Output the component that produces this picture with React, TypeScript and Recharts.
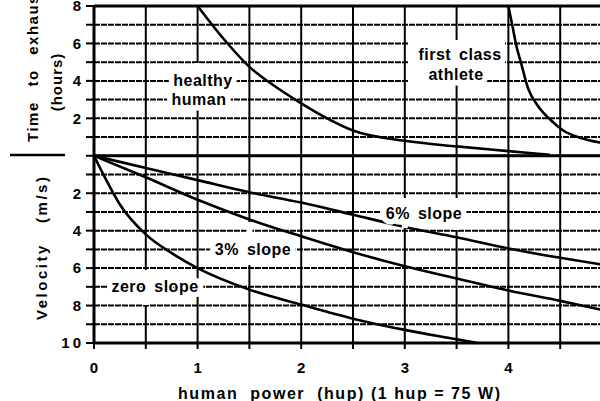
import { CartesianGrid, Line, LineChart, ReferenceLine, XAxis, YAxis } from 'recharts'

// x axis: human power in hup, 0.5 steps for the vertical rules
const powerTicks = [0, 0.5, 1, 1.5, 2, 2.5, 3, 3.5, 4, 4.5, 5]
// one shared vertical scale: hours above zero, velocity (m/s) below
const levelTicks = [-10, -9, -8, -7, -6, -5, -4, -3, -2, -1, 0, 1, 2, 3, 4, 5, 6, 7, 8]

// time to exhaustion (hours)
const healthyPower = [1, 1.25, 1.5, 1.75, 2, 2.25, 2.5, 3, 3.5, 4, 4.4]
const healthyHours = [8, 6.25, 4.75, 3.7, 2.8, 2.0, 1.35, 0.8, 0.5, 0.25, 0.05]
const athletePower = [4, 4.04, 4.08, 4.12, 4.19, 4.28, 4.41, 4.53, 4.7, 4.89, 5]
const athleteHours = [8, 6.9, 5.8, 5.0, 3.6, 2.7, 1.9, 1.35, 0.95, 0.7, 0.6]

// velocity (m/s)
const zeroPower = [0, 0.1, 0.25, 0.5, 0.75, 1, 1.5, 2, 2.5, 3, 3.5, 3.7]
const zeroSpeed = [0, 1.1, 2.6, 4.2, 5.2, 6.0, 7.15, 7.95, 8.7, 9.3, 9.8, 10]
const slopePower = [0, 0.5, 1, 1.5, 2, 2.5, 3, 3.5, 4, 4.5, 5]
const threeSpeed = [0, 1.15, 2.35, 3.4, 4.3, 5.15, 5.9, 6.55, 7.2, 7.75, 8.35]
const sixSpeed = [0, 0.65, 1.3, 1.95, 2.5, 3.15, 3.8, 4.35, 4.95, 5.45, 5.9]

const toPoints = (xs: number[], ys: number[], sign = 1) =>
  xs.map((p, i) => ({ power: p, value: sign * ys[i] }))

const healthy = toPoints(healthyPower, healthyHours)
const athlete = toPoints(athletePower, athleteHours)
const zeroSlope = toPoints(zeroPower, zeroSpeed, -1)
const threeSlope = toPoints(slopePower, threeSpeed, -1)
const sixSlope = toPoints(slopePower, sixSpeed, -1)

const W = 620
const H = 401
const LEFT = 94
const TOP = 6
const RIGHT = 8
const XAXIS_H = 58
const plotW = W - LEFT - RIGHT
const plotH = H - TOP - XAXIS_H
const px = (p: number) => LEFT + (p / 5) * plotW
const py = (v: number) => TOP + ((8 - v) / 18) * plotH

const font = '"Liberation Sans", Arial, Helvetica, sans-serif'
const ink = '#000'

const yFmt = (v: number) => (v !== 0 && v % 2 === 0 ? String(Math.abs(v)) : '')
const xFmt = (v: number) => (Number.isInteger(v) && v < 5 ? String(v) : '')

function Tag({ x, y, text, size = 16 }: { x: number; y: number; text: string; size?: number }) {
  return (
    <text
      x={x}
      y={y}
      dy="0.35em"
      textAnchor="middle"
      fontFamily={font}
      fontWeight={700}
      fontSize={size}
      letterSpacing={0.5}
      wordSpacing={3}
      fill={ink}
      stroke="#fff"
      strokeWidth={11}
      strokeLinejoin="round"
      paintOrder="stroke"
    >
      {text}
    </text>
  )
}

function Gap({ x, y1, y2 }: { x: number; y1: number; y2: number }) {
  return <rect x={x - 3} y={y1} width={6} height={y2 - y1} fill="#fff" />
}

export default function App() {
  const lineProps = {
    type: 'monotone' as const,
    dataKey: 'value',
    stroke: ink,
    strokeWidth: 2.6,
    dot: false,
    isAnimationActive: false,
  }
  return (
    <div
      style={{
        position: 'absolute',
        left: 0,
        top: 0,
        width: 600,
        height: 401,
        overflow: 'hidden',
        background: '#fff',
      }}
    >
      <LineChart width={W} height={H} margin={{ top: TOP, right: RIGHT, bottom: 0, left: 0 }}>
        <CartesianGrid vertical={false} stroke={ink} strokeWidth={2} strokeDasharray="6 1" />
        <CartesianGrid horizontal={false} stroke={ink} strokeWidth={2} />
        <XAxis
          dataKey="power"
          type="number"
          domain={[0, 5]}
          ticks={powerTicks}
          tickFormatter={xFmt}
          height={XAXIS_H}
          allowDataOverflow
          axisLine={{ stroke: ink, strokeWidth: 3 }}
          tickLine={{ stroke: ink, strokeWidth: 2 }}
          tickSize={6}
          tickMargin={13}
          tick={{ fill: ink, fontSize: 15, fontWeight: 700, fontFamily: font }}
        />
        <YAxis
          type="number"
          domain={[-10, 8]}
          ticks={levelTicks}
          tickFormatter={yFmt}
          width={LEFT}
          interval={0}
          axisLine={{ stroke: ink, strokeWidth: 3 }}
          tickLine={{ stroke: ink, strokeWidth: 2 }}
          tickSize={8}
          tickMargin={2}
          tick={{ fill: ink, fontSize: 15, fontWeight: 700, fontFamily: font, letterSpacing: 3 }}
        />
        <ReferenceLine y={8} stroke={ink} strokeWidth={3} />
        <ReferenceLine y={0} stroke={ink} strokeWidth={3} />
        <Line {...lineProps} data={healthy} name="healthy human" />
        <Line {...lineProps} data={athlete} name="first class athlete" />
        <Line {...lineProps} data={sixSlope} name="6% slope" />
        <Line {...lineProps} data={threeSlope} name="3% slope" />
        <Line {...lineProps} data={zeroSlope} name="zero slope" />
      </LineChart>

      <svg
        width={600}
        height={401}
        style={{ position: 'absolute', left: 0, top: 0, pointerEvents: 'none' }}
      >
        {/* white-outs behind the curve labels */}
        <Gap x={px(1)} y1={63} y2={108} />
        <Gap x={px(0.5)} y1={270} y2={305} />
        <Gap x={px(1.5)} y1={222} y2={265} />
        <Gap x={px(3)} y1={198} y2={228} />
        <Gap x={px(3.5)} y1={198} y2={230} />
        <rect x={409} y={40} width={96} height={32} fill="#fff" />
        <rect x={409} y={72} width={77} height={13} fill="#fff" />

        <Tag x={203} y={py(4)} text="healthy" />
        <Tag x={199} y={py(3)} text="human" />
        <Tag x={460} y={54} text="first class" />
        <Tag x={456} y={74} text="athlete" />
        <Tag x={424} y={py(-3) + 1} text="6% slope" />
        <Tag x={253} y={py(-5)} text="3% slope" />
        <Tag x={155} y={py(-7)} text="zero slope" />

        <line x1={10} y1={155} x2={65} y2={155} stroke={ink} strokeWidth={2.5} />

        <text
          transform="rotate(-90 33 142)"
          x={33}
          y={142}
          dy="0.35em"
          fontFamily={font}
          fontWeight={700}
          fontSize={15}
          letterSpacing={1.5}
          wordSpacing={9}
          fill={ink}
        >
          Time to exhaustion
        </text>
        <text
          transform="rotate(-90 57 82)"
          x={57}
          y={82}
          dy="0.35em"
          textAnchor="middle"
          fontFamily={font}
          fontWeight={700}
          fontSize={15}
          letterSpacing={1}
          fill={ink}
        >
          (hours)
        </text>
        <text
          transform="rotate(-90 42 320)"
          x={42}
          y={320}
          dy="0.35em"
          fontFamily={font}
          fontWeight={700}
          fontSize={15}
          textLength={143}
          lengthAdjust="spacing"
          fill={ink}
          style={{ whiteSpace: 'pre' }}
        >
          {'Velocity   (m/s)'}
        </text>
        <text
          x={178}
          y={393}
          dy="0.35em"
          fontFamily={font}
          fontWeight={700}
          fontSize={16}
          textLength={322}
          lengthAdjust="spacing"
          fill={ink}
          style={{ whiteSpace: 'pre' }}
        >
          {'human  power  (hup) (1 hup = 75 W)'}
        </text>
      </svg>
    </div>
  )
}
